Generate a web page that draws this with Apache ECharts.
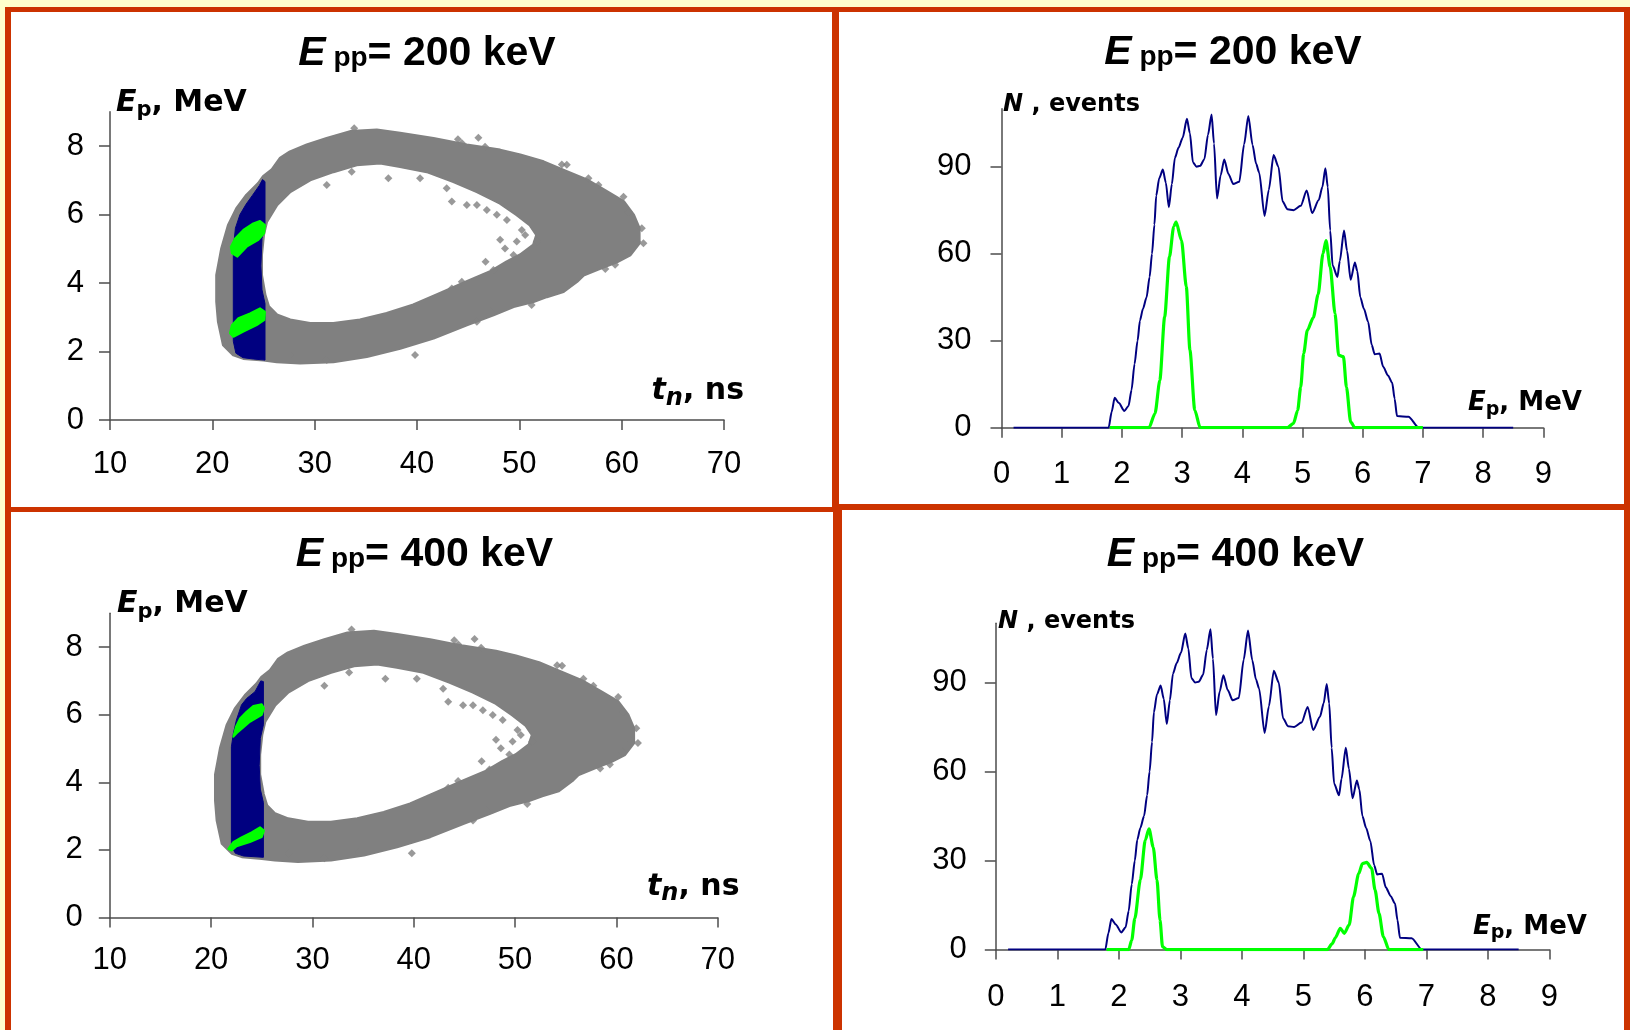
<!DOCTYPE html>
<html>
<head>
<meta charset="utf-8">
<script src="https://cdn.jsdelivr.net/npm/echarts@6/dist/echarts.min.js"></script>
<style>
  html, body { margin: 0; padding: 0; background: #ffffcc; }
  #frame { position: absolute; left: 5px; top: 7px; width: 1625px; height: 1023px; background: #cc3300; }
  .panel { position: absolute; background: #fff; }
  #chart { position: absolute; left: 0; top: 0; width: 1630px; height: 1030px; }
</style>
</head>
<body>
<div id="frame"></div>
<div class="panel" style="left:11px;top:12px;width:821px;height:495px"></div>
<div class="panel" style="left:839px;top:12px;width:785px;height:492px"></div>
<div class="panel" style="left:11px;top:512px;width:822px;height:518px"></div>
<div class="panel" style="left:842px;top:510px;width:782px;height:520px"></div>
<div id="chart"></div>
<script>
// left panels: t_n (ns) vs E_p (MeV), dense cloud read as its outer / inner edge
const loopOuter = [
  [21.08, 2.19], [20.59, 2.87], [20.43, 3.46], [20.43, 4.23], [20.92, 5.01], [21.57, 5.69], [22.38, 6.18],
  [23.36, 6.57], [24.5, 6.91], [24.99, 7.11], [25.8, 7.3], [26.62, 7.64], [27.6, 7.83], [29.23, 8.03],
  [31.18, 8.22], [33.46, 8.42], [36.07, 8.47], [38.35, 8.37], [41.61, 8.22], [44.87, 8.03], [48.12, 7.88],
  [50.08, 7.74], [52.36, 7.54], [54.64, 7.25], [56.59, 7.01], [58.55, 6.67], [60.18, 6.38], [61.16, 5.99],
  [61.7, 5.6], [61.7, 5.16], [60.83, 4.82], [59.53, 4.62], [57.9, 4.43], [56.27, 4.23], [55.62, 4.04],
  [54.31, 3.75], [52.68, 3.6], [51.38, 3.46], [49.43, 3.31], [47.47, 3.07], [44.87, 2.78], [41.61, 2.39],
  [38.35, 2.09], [35.09, 1.85], [31.83, 1.7], [28.58, 1.66], [26.3, 1.7], [25.0, 1.75], [23.04, 1.8], [22.06, 1.9]
];
const loopInner = [
  [25.3, 5.79], [26.3, 6.28], [27.6, 6.67], [29.55, 7.01], [31.83, 7.25], [34.1, 7.45], [36.4, 7.5],
  [38.35, 7.4], [40.96, 7.25], [43.57, 6.96], [45.85, 6.67], [48.12, 6.33], [49.75, 5.99], [51.05, 5.69],
  [51.7, 5.4], [51.38, 5.11], [50.08, 4.82], [48.78, 4.62], [47.15, 4.33], [44.87, 4.04], [42.26, 3.7],
  [39.65, 3.36], [37.04, 3.11], [34.43, 2.92], [31.83, 2.82], [29.55, 2.82], [27.6, 2.92], [26.3, 3.07],
  [25.5, 3.31], [25.15, 3.65], [24.8, 4.23], [24.8, 4.82], [25.0, 5.4]
];
// single points standing out of the cloud
const grayDots = [
  [33.86, 8.52], [44.0, 8.2], [44.4, 8.08], [46.0, 8.24], [46.65, 7.98], [54.15, 7.46], [54.64, 7.45],
  [56.75, 7.06], [57.73, 6.86], [60.18, 6.52], [60.67, 6.08], [61.97, 5.6], [62.13, 5.16], [61.5, 5.21],
  [60.5, 4.92], [59.36, 4.53], [58.4, 4.41], [51.2, 3.36], [47.15, 3.16], [45.85, 2.87], [39.81, 1.9],
  [34.6, 1.92], [31.18, 1.75], [27.6, 1.9],
  [31.18, 6.86], [33.62, 7.25], [37.2, 7.06], [40.3, 7.06], [42.9, 6.77], [43.4, 6.38], [44.87, 6.28],
  [45.85, 6.28], [46.82, 6.13], [47.8, 5.99], [48.78, 5.84], [48.12, 5.26], [48.6, 5.01], [49.75, 5.21],
  [49.43, 4.82], [46.7, 4.62], [47.47, 4.38], [44.38, 4.04], [43.4, 3.84], [50.24, 5.55], [50.57, 5.4], [51.7, 5.21]
];
// time gate (navy) and selected events (green)
const gate200 = [
  [25.15, 6.96], [24.9, 7.02], [24.6, 6.85], [23.9, 6.55], [23.3, 6.3], [22.7, 6.0], [22.25, 5.6], [22.05, 5.0],
  [22.05, 2.3], [22.3, 1.95], [23.0, 1.82], [24.0, 1.78], [25.15, 1.75], [25.15, 3.4], [24.85, 3.8],
  [24.75, 4.5], [24.85, 5.3], [25.15, 5.7]
];
const gate400 = [
  [25.16, 6.98], [24.9, 7.0], [24.33, 6.68], [23.5, 6.48], [23.0, 6.29], [22.5, 5.84], [22.2, 5.45], [22.0, 5.05],
  [22.0, 2.1], [22.4, 1.9], [23.2, 1.82], [25.16, 1.78], [25.16, 3.4], [24.85, 3.8], [24.75, 4.5],
  [24.85, 5.3], [25.16, 5.7]
];
const green200Hi = [[21.9, 4.87], [22.45, 4.77], [23.36, 5.06], [24.5, 5.26], [25.06, 5.45], [25.15, 5.69], [24.66, 5.81], [24.0, 5.74], [23.04, 5.55], [22.22, 5.3], [21.8, 5.06]];
const green200Lo = [[21.73, 2.53], [22.06, 2.43], [23.04, 2.58], [24.34, 2.77], [25.09, 2.92], [25.15, 3.16], [24.66, 3.26], [23.69, 3.11], [22.55, 2.97], [21.9, 2.77]];
const green400Hi = [[22.19, 5.35], [22.52, 5.45], [23.83, 5.79], [24.99, 5.99], [25.22, 6.19], [24.99, 6.31], [24.16, 6.26], [23.5, 6.09], [22.85, 5.89], [22.45, 5.64]];
const green400Lo = [[21.7, 2.03], [22.03, 1.98], [22.52, 2.11], [23.83, 2.23], [24.99, 2.38], [25.22, 2.57], [24.82, 2.67], [24.0, 2.52], [23.0, 2.37], [22.19, 2.23]];

// right panels: E_p (MeV) vs N (events)
const allEvents = [
  [0.2, 0], [1.78, 0], [1.83, 5.5], [1.88, 10.3], [1.95, 8.5], [2.04, 5.8], [2.11, 7.5], [2.16, 13], [2.21, 22],
  [2.26, 30], [2.3, 37], [2.35, 41], [2.41, 45], [2.46, 52], [2.5, 60], [2.54, 70], [2.57, 80], [2.62, 86],
  [2.68, 89], [2.73, 84.5], [2.78, 76], [2.83, 84], [2.88, 93], [2.94, 96.5], [3.01, 100], [3.08, 106.5],
  [3.13, 101.5], [3.18, 91.5], [3.24, 90], [3.3, 90.3], [3.37, 92.6], [3.43, 101], [3.49, 108], [3.53, 98],
  [3.58, 79], [3.64, 87], [3.7, 92.5], [3.77, 87.5], [3.85, 84], [3.95, 84.8], [4.03, 97.7], [4.1, 107.5],
  [4.17, 97.5], [4.23, 91], [4.28, 88], [4.37, 73], [4.44, 82], [4.52, 94], [4.6, 90], [4.67, 78],
  [4.75, 75.3], [4.85, 75], [4.97, 76.5], [5.07, 81.8], [5.16, 74], [5.27, 78.5], [5.33, 83], [5.38, 89.5],
  [5.42, 83], [5.46, 68], [5.5, 56], [5.58, 52], [5.62, 57.5], [5.69, 68], [5.74, 61], [5.8, 51], [5.87, 57],
  [5.91, 54], [5.96, 45], [6.02, 41], [6.09, 36.5], [6.15, 28.5], [6.2, 25.3], [6.28, 25.6], [6.34, 21],
  [6.42, 18], [6.49, 15.5], [6.53, 10], [6.57, 4], [6.76, 3.8], [6.93, 0], [8.5, 0]
];
const green200 = [
  [1.8, 0], [2.45, 0], [2.55, 4.9], [2.63, 16.3], [2.71, 38.2], [2.79, 58.9], [2.86, 69.3], [2.9, 71],
  [2.99, 64.6], [3.07, 48.6], [3.13, 26.8], [3.21, 6.1], [3.3, 0], [4.75, 0], [4.85, 1.5], [4.92, 6],
  [4.97, 14], [5.02, 25.6], [5.08, 33.6], [5.18, 38], [5.26, 46], [5.34, 60], [5.39, 64.5], [5.46, 55.4],
  [5.54, 39.4], [5.6, 25], [5.68, 24.5], [5.73, 14], [5.8, 2], [5.87, 0], [7.0, 0]
];
const green400 = [
  [1.8, 0], [2.16, 0], [2.21, 3.2], [2.26, 10.5], [2.35, 23.5], [2.43, 36.9], [2.49, 40.7], [2.56, 34.5],
  [2.62, 23.5], [2.67, 9.9], [2.71, 1], [2.78, 0], [5.39, 0], [5.47, 2], [5.52, 4], [5.6, 7.2], [5.665, 5.5],
  [5.745, 8.3], [5.815, 17.8], [5.9, 25.6], [5.96, 29], [6.03, 29.4], [6.11, 27.4], [6.165, 20.1],
  [6.23, 12.2], [6.3, 4.4], [6.39, 0], [6.95, 0]
];

const ticksE = [0, 2, 4, 6, 8];
const ticksN = [0, 30, 60, 90];

const gray = "#808080";
const navy = "#000080";
const green = "#00ff00";
const axisColor = "#4d4d4d";
const numFont = "Liberation Sans";
const nameFont = "DejaVu Sans";

const toPath = (pts) => pts.map((p, i) => (i ? "L" : "M") + p[0].toFixed(1) + " " + p[1].toFixed(1)).join(" ") + " Z";
const area = (pts) => {
  let s = 0;
  pts.forEach((p, i) => {
    const q = pts[(i + 1) % pts.length];
    s += p[0] * q[1] - q[0] * p[1];
  });
  return s;
};

// first ring is the outline, the others are holes
function polygonSeries(grid, rings, color, z, edge) {
  return {
    type: "custom",
    coordinateSystem: "cartesian2d",
    xAxisIndex: grid,
    yAxisIndex: grid,
    data: rings[0],
    z,
    silent: true,
    renderItem: (params, api) => {
      if (params.dataIndex !== 0) return null;
      const px = rings.map((r) => r.map((p) => api.coord(p)));
      const sign = Math.sign(area(px[0]));
      const d = px.map((r, i) => (i && Math.sign(area(r)) === sign ? r.slice().reverse() : r)).map(toPath).join(" ");
      return { type: "path", shape: { pathData: d }, style: { fill: color, stroke: color, lineWidth: edge, lineJoin: "round" } };
    }
  };
}

const dotSeries = (grid) => ({
  type: "scatter", xAxisIndex: grid, yAxisIndex: grid, data: grayDots,
  symbol: "diamond", symbolSize: 8, itemStyle: { color: gray }, z: 3, silent: true
});

const lineSeries = (grid, data, color, width, z) => ({
  type: "line", xAxisIndex: grid, yAxisIndex: grid, data,
  symbol: "none", smooth: 0.25, smoothMonotone: "x", z, silent: true,
  lineStyle: { color, width, join: "round" }
});

const lineStyle = { color: axisColor, width: 1.5 };

function axisX(grid, min, max, interval, margin) {
  return {
    type: "value", gridIndex: grid, min, max, interval,
    axisLine: { show: true, onZero: false, lineStyle },
    axisTick: { show: true, length: 10, lineStyle },
    axisLabel: { fontFamily: numFont, fontSize: 31, color: "#000", margin },
    splitLine: { show: false }
  };
}

function axisY(grid, max, ticks, margin) {
  return {
    type: "value", gridIndex: grid, min: 0, max,
    axisLine: { show: true, onZero: false, lineStyle },
    axisTick: { show: true, length: 11, customValues: ticks, lineStyle },
    axisLabel: { customValues: ticks, fontFamily: numFont, fontSize: 31, color: "#000", margin },
    splitLine: { show: false }
  };
}

const titleRich = {
  e: { fontFamily: numFont, fontWeight: "bold", fontStyle: "italic", fontSize: 41, lineHeight: 46, color: "#000" },
  s: { fontFamily: numFont, fontWeight: "bold", fontSize: 28, padding: [9, 0, 0, 0], color: "#000" },
  m: { fontFamily: numFont, fontWeight: "bold", fontSize: 41, lineHeight: 46, color: "#000" }
};
const epLeftRich = {
  e: { fontFamily: nameFont, fontWeight: "bold", fontStyle: "italic", fontSize: 30, lineHeight: 38, color: "#000" },
  s: { fontFamily: nameFont, fontWeight: "bold", fontSize: 21, padding: [16, 0, 0, 0], color: "#000" },
  m: { fontFamily: nameFont, fontWeight: "bold", fontSize: 30, lineHeight: 38, color: "#000" }
};
const tnRich = {
  e: { fontFamily: nameFont, fontWeight: "bold", fontStyle: "italic", fontSize: 30, lineHeight: 40, color: "#000" },
  s: { fontFamily: nameFont, fontWeight: "bold", fontStyle: "italic", fontSize: 24, padding: [14, 0, 0, 0], color: "#000" },
  m: { fontFamily: nameFont, fontWeight: "bold", fontSize: 30, lineHeight: 40, color: "#000" }
};
const nRich = {
  e: { fontFamily: nameFont, fontWeight: "bold", fontStyle: "italic", fontSize: 24, lineHeight: 30, color: "#000" },
  m: { fontFamily: nameFont, fontWeight: "bold", fontSize: 24, lineHeight: 30, color: "#000" }
};
const epRightRich = {
  e: { fontFamily: nameFont, fontWeight: "bold", fontStyle: "italic", fontSize: 26, lineHeight: 34, color: "#000" },
  s: { fontFamily: nameFont, fontWeight: "bold", fontSize: 19, padding: [12, 0, 0, 0], color: "#000" },
  m: { fontFamily: nameFont, fontWeight: "bold", fontSize: 26, lineHeight: 34, color: "#000" }
};

const label = (x, y, text, rich, align) => ({
  type: "text", x, y, z: 10, silent: true,
  style: { text, rich, align, textAlign: align, verticalAlign: "middle", textVerticalAlign: "middle" }
});

const option = {
  animation: false,
  grid: [
    { left: 110, top: 111.75, width: 614, height: 308.25, containLabel: false, outerBoundsMode: "none" },
    { left: 1001.5, top: 108.7, width: 541.8, height: 319, containLabel: false, outerBoundsMode: "none" },
    { left: 109.8, top: 613.3, width: 607.9, height: 304.2, containLabel: false, outerBoundsMode: "none" },
    { left: 995.8, top: 623.2, width: 553.6, height: 326.4, containLabel: false, outerBoundsMode: "none" }
  ],
  xAxis: [
    axisX(0, 10, 70, 10, 29),
    axisX(1, 0, 9, 1, 31),
    axisX(2, 10, 70, 10, 27.5),
    axisX(3, 0, 9, 1, 32.5)
  ],
  yAxis: [
    axisY(0, 9, ticksE, 26),
    axisY(1, 110, ticksN, 30),
    axisY(2, 9, ticksE, 27),
    axisY(3, 110, ticksN, 29)
  ],
  graphic: [
    label(427, 53.8, "{e|E}{s| pp}{m|= 200 keV}", titleRich, "center"),
    label(1233, 52.5, "{e|E}{s| pp}{m|= 200 keV}", titleRich, "center"),
    label(424.5, 555.1, "{e|E}{s| pp}{m|= 400 keV}", titleRich, "center"),
    label(1235.5, 555.1, "{e|E}{s| pp}{m|= 400 keV}", titleRich, "center"),
    label(116, 102.9, "{e|E}{s|p}{m|, MeV}", epLeftRich, "left"),
    label(117, 604.6, "{e|E}{s|p}{m|, MeV}", epLeftRich, "left"),
    label(744, 391.3, "{e|t}{s|n}{m|, ns}", tnRich, "right"),
    label(739.5, 886.8, "{e|t}{s|n}{m|, ns}", tnRich, "right"),
    label(1003, 105, "{e|N}{m| , events}", nRich, "left"),
    label(998, 621.9, "{e|N}{m| , events}", nRich, "left"),
    label(1468, 403.7, "{e|E}{s|p}{m|, MeV}", epRightRich, "left"),
    label(1473, 927.1, "{e|E}{s|p}{m|, MeV}", epRightRich, "left")
  ],
  series: [
    polygonSeries(0, [loopOuter, loopInner], gray, 2, 3),
    dotSeries(0),
    polygonSeries(0, [gate200], navy, 4, 1),
    polygonSeries(0, [green200Hi], green, 5, 2),
    polygonSeries(0, [green200Lo], green, 5, 2),
    polygonSeries(2, [loopOuter, loopInner], gray, 2, 3),
    dotSeries(2),
    polygonSeries(2, [gate400], navy, 4, 1),
    polygonSeries(2, [green400Hi], green, 5, 2),
    polygonSeries(2, [green400Lo], green, 5, 2),
    lineSeries(1, allEvents, navy, 2, 3),
    lineSeries(1, green200, green, 3.2, 4),
    lineSeries(3, allEvents, navy, 2, 3),
    lineSeries(3, green400, green, 3.2, 4)
  ]
};

const myChart = echarts.init(document.getElementById("chart"));
myChart.setOption(option);
</script>
</body>
</html>
